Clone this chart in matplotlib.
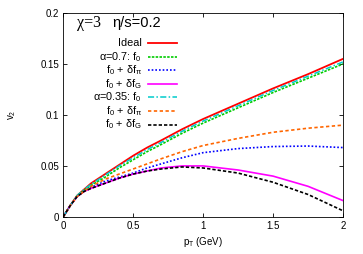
import matplotlib
matplotlib.use("Agg")
import matplotlib.pyplot as plt
from matplotlib.lines import Line2D

plt.rcParams['font.family'] = ['Liberation Sans', 'DejaVu Sans']
plt.rcParams['mathtext.fontset'] = 'custom'
plt.rcParams['mathtext.rm'] = 'Liberation Sans'
plt.rcParams['mathtext.it'] = 'Liberation Sans'
plt.rcParams['mathtext.bf'] = 'Liberation Sans:bold'

pt = [0.0, 0.05, 0.1, 0.15, 0.2, 0.3, 0.4, 0.5, 0.6, 0.7, 0.85, 1.0, 1.25, 1.5, 1.75, 2.0]
ideal   = [0.0, 0.011, 0.021, 0.027, 0.033, 0.042, 0.051, 0.060, 0.068, 0.075, 0.086, 0.096, 0.111, 0.126, 0.140, 0.155]
a07_f0  = [0.0, 0.011, 0.021, 0.026, 0.031, 0.039, 0.048, 0.056, 0.064, 0.071, 0.082, 0.092, 0.107, 0.122, 0.136, 0.150]
a07_dpi = [0.0, 0.011, 0.020, 0.025, 0.029, 0.035, 0.039, 0.043, 0.048, 0.052, 0.058, 0.063, 0.067, 0.069, 0.0695, 0.068]
a07_dG  = [0.0, 0.011, 0.020, 0.025, 0.028, 0.033, 0.038, 0.042, 0.045, 0.048, 0.050, 0.050, 0.046, 0.040, 0.030, 0.016]
a035_f0 = [0.0, 0.011, 0.021, 0.027, 0.032, 0.041, 0.050, 0.058, 0.066, 0.073, 0.084, 0.094, 0.109, 0.124, 0.138, 0.152]
a035_dpi= [0.0, 0.011, 0.020, 0.025, 0.030, 0.037, 0.042, 0.047, 0.052, 0.057, 0.064, 0.070, 0.077, 0.083, 0.087, 0.090]
a035_dG = [0.0, 0.011, 0.020, 0.025, 0.028, 0.033, 0.038, 0.042, 0.045, 0.047, 0.049, 0.048, 0.043, 0.034, 0.022, 0.006]

labels = ["Ideal", "α=0.7: f$_0$", "f$_0$ + δf$_π$", "f$_0$ + δf$_G$",
          "α=0.35: f$_0$", "f$_0$ + δf$_π$", "f$_0$ + δf$_G$"]
series = [ideal, a07_f0, a07_dpi, a07_dG, a035_f0, a035_dpi, a035_dG]
colors = ["#ff0000", "#00cc00", "#0000ff", "#ff00ff", "#00cccc", "#ff6600", "#000000"]
styles = ["-", (0, (1.5, 0.8)), (0, (1, 1.2)), "-", (0, (4, 1.5, 1, 1.5)), (0, (2, 1.5)), (0, (2, 1.2))]
widths = [1.3, 1.2, 1.2, 1.2, 1.1, 1.2, 1.2]

fig = plt.figure(figsize=(3.63, 2.54), dpi=100)
ax = fig.add_axes([0.174, 0.146, 0.771, 0.803])
for y, c, ls, lw in zip(series, colors, styles, widths):
    ax.plot(pt, y, color=c, linestyle=ls, linewidth=lw)

ax.set_xlim(0, 2)
ax.set_ylim(0, 0.2)
ax.set_xticks([0, 0.5, 1, 1.5, 2])
ax.set_xticklabels(["0", "0.5", "1", "1.5", "2"])
ax.set_yticks([0, 0.05, 0.1, 0.15, 0.2])
ax.set_yticklabels(["0", "0.05", "0.1", "0.15", "0.2"])
ax.tick_params(direction="in", top=True, right=True, labelsize=7, length=3, width=0.6, pad=3)
for s in ax.spines.values():
    s.set_linewidth(0.6)
ax.set_xlabel("p$_T$ (GeV)", fontsize=7, labelpad=3)
ax.set_ylabel("v$_2$", fontsize=7, labelpad=16)

ax.text(0.048, 0.952, "χ=3", transform=ax.transAxes, fontsize=11.5,
        va="center", ha="left", family=["Liberation Serif"])
ax.text(0.175, 0.952, "η/s=0.2", transform=ax.transAxes, fontsize=10.5,
        va="center", ha="left")

# manual legend (right-aligned text, sample line to the right)
y0, dy = 0.852, 0.0665
for i, (lab, c, ls, lw) in enumerate(zip(labels, colors, styles, widths)):
    yy = y0 - i * dy
    ax.text(0.282, yy, lab, transform=ax.transAxes, ha="right", va="center", fontsize=7.8)
    ax.add_line(Line2D([0.302, 0.405], [yy, yy], transform=ax.transAxes, color=c,
                       linestyle=ls, linewidth=lw))

fig.savefig("out.png", dpi=100)
